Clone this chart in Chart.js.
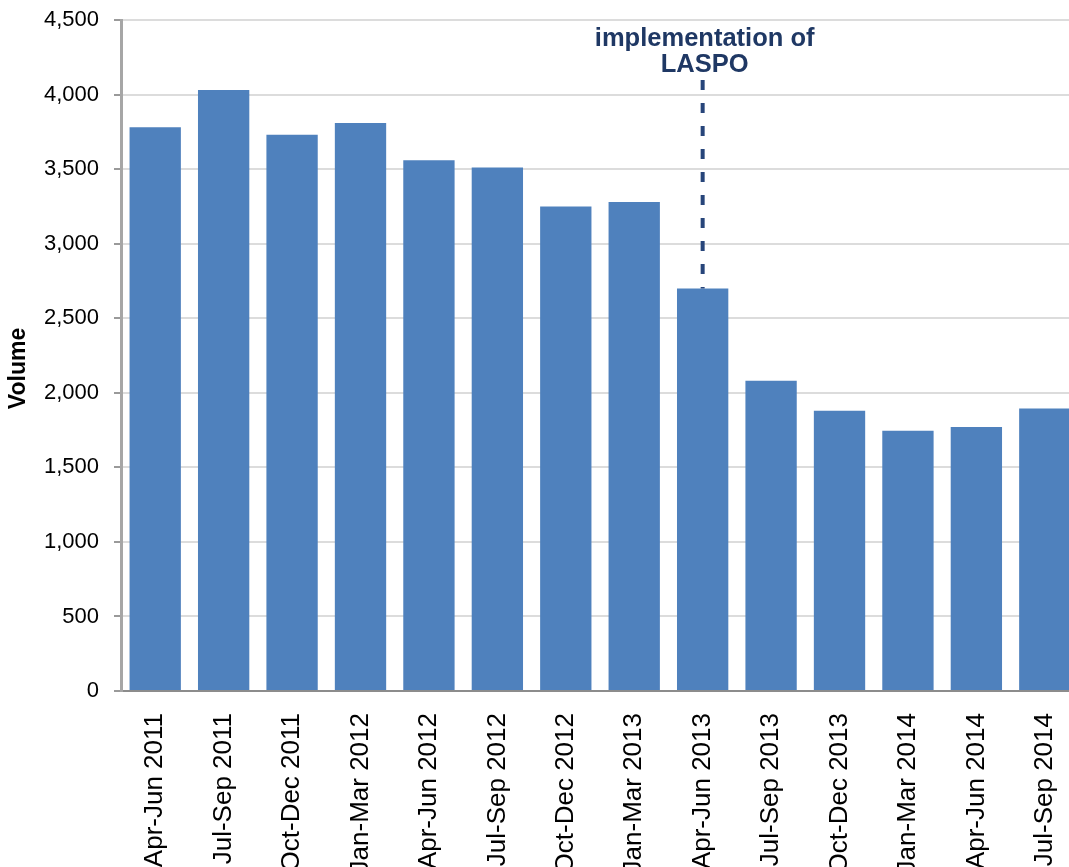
<!DOCTYPE html>
<html>
<head>
<meta charset="utf-8">
<script src="https://cdn.jsdelivr.net/npm/chart.js@4"></script>
<style>
  html, body { margin: 0; padding: 0; background: #fff; overflow: hidden; }
  #wrap { width: 1069px; height: 867px; overflow: hidden; position: relative; }
  #box { width: 1090px; height: 867px; position: absolute; left: 0; top: 0; }
</style>
</head>
<body>
<div id="wrap"><div id="box"><canvas id="c"></canvas></div></div>
<script>
// Quarterly volumes
const quarters = [
  'Apr-Jun 2011', 'Jul-Sep 2011', 'Oct-Dec 2011', 'Jan-Mar 2012',
  'Apr-Jun 2012', 'Jul-Sep 2012', 'Oct-Dec 2012', 'Jan-Mar 2013',
  'Apr-Jun 2013', 'Jul-Sep 2013', 'Oct-Dec 2013', 'Jan-Mar 2014',
  'Apr-Jun 2014', 'Jul-Sep 2014'
];
const volumes = [3780, 4030, 3730, 3810, 3560, 3510, 3250, 3280, 2700, 2080, 1880, 1745, 1770, 1895];
const yMin = 0;
const yMax = 4500;
const yStep = 500;
const yTitle = 'Volume';

// Policy change marker
const markerIndex = 8;
const markerText = ['implementation of', 'LASPO'];

const FONT = '"Liberation Sans", Arial, sans-serif';

// Dashed marker line down to the bar, with its caption above
const markerPlugin = {
  id: 'marker',
  afterDatasetsDraw(chart) {
    const { ctx, chartArea, scales: { x, y } } = chart;
    const px = x.getPixelForValue(markerIndex);
    const barTop = y.getPixelForValue(volumes[markerIndex]);
    ctx.save();
    ctx.strokeStyle = '#27457a';
    ctx.lineWidth = 4;
    ctx.setLineDash([10, 13]);
    ctx.beginPath();
    ctx.moveTo(px, chartArea.top + 60);
    ctx.lineTo(px, barTop);
    ctx.stroke();
    ctx.setLineDash([]);
    ctx.fillStyle = '#1f3864';
    ctx.font = 'bold 25.5px ' + FONT;
    ctx.textAlign = 'center';
    ctx.textBaseline = 'middle';
    ctx.fillText(markerText[0], px + 2, chartArea.top + 19);
    ctx.fillText(markerText[1], px + 2, chartArea.top + 45);
    ctx.restore();
  }
};

// Rotated y-axis title, sitting a little below the axis middle
const yTitlePlugin = {
  id: 'yTitle',
  afterDraw(chart) {
    const { ctx, chartArea } = chart;
    ctx.save();
    ctx.translate(19, (chartArea.top + chartArea.bottom) / 2 + 13);
    ctx.rotate(-Math.PI / 2);
    ctx.fillStyle = '#000';
    ctx.font = 'bold 23px ' + FONT;
    ctx.textAlign = 'center';
    ctx.textBaseline = 'middle';
    ctx.fillText(yTitle, 0, 0);
    ctx.restore();
  }
};

new Chart(document.getElementById('c'), {
  type: 'bar',
  data: {
    labels: quarters,
    datasets: [{
      data: volumes,
      backgroundColor: '#4f81bd',
      borderWidth: 0,
      barPercentage: 0.75,
      categoryPercentage: 1.0
    }]
  },
  options: {
    responsive: true,
    maintainAspectRatio: false,
    animation: false,
    devicePixelRatio: 1,
    layout: { padding: { top: 20, left: 0, right: 0, bottom: 0 } },
    plugins: {
      legend: { display: false },
      tooltip: { enabled: false }
    },
    scales: {
      x: {
        offset: true,
        grid: { display: false },
        border: { display: true, color: '#8c8c8c', width: 2 },
        ticks: {
          color: '#000',
          font: { family: FONT, size: 26 },
          minRotation: 90,
          maxRotation: 90,
          autoSkip: false,
          padding: 14
        },
        afterFit: (s) => { s.height = 176; }
      },
      y: {
        min: yMin,
        max: yMax,
        grid: {
          color: '#dcdcdc',
          lineWidth: 2,
          tickLength: 7,
          tickColor: '#9a9a9a'
        },
        border: { display: true, color: '#a6a6a6', width: 3 },
        ticks: {
          stepSize: yStep,
          color: '#000',
          font: { family: FONT, size: 22 },
          padding: 15,
          callback: (v) => v.toLocaleString('en-US')
        },
        afterFit: (s) => {
          s.width = 121;
          s.paddingTop = 0;
          s.paddingBottom = 0;
        }
      }
    }
  },
  plugins: [markerPlugin, yTitlePlugin]
});
</script>
</body>
</html>
